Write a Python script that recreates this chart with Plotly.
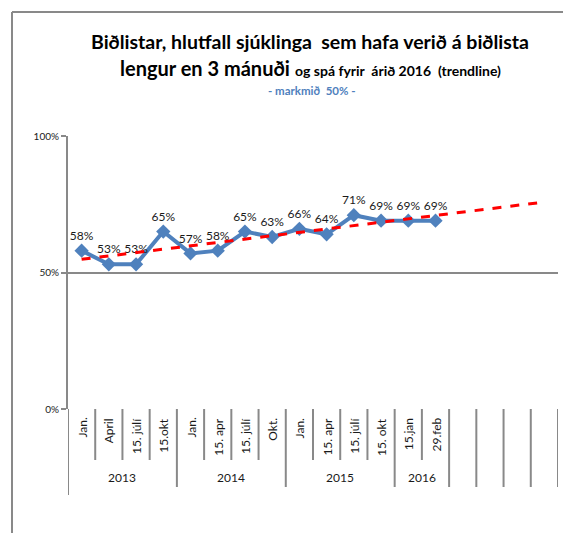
import numpy as np
import plotly.graph_objects as go

# ---- data ----
categories = ["Jan.", "April", "15. júlí", "15.okt",
              "Jan.", "15. apr", "15. júlí", "Okt.",
              "Jan.", "15. apr", "15. júlí", "15. okt",
              "15.jan", "29.feb", "", "", "", ""]
years = ["2013", "2014", "2015", "2016"]
year_sizes = [4, 4, 4, 2]
values = [58, 53, 53, 65, 57, 58, 65, 63, 66, 64, 71, 69, 69, 69]
labels = [f"{v}%" for v in values]
y_ticks = [0, 50, 100]
y_ticklabels = ["0%", "50%", "100%"]

W, H = 563, 533
L, R, T, B = 68, 5, 136, 124
PW, PH = W - L - R, H - T - B

def py(p):  # pixel y -> paper
    return (H - B - p) / PH

def px(p):  # pixel x -> paper
    return (p - L) / PW

n_cat = len(categories)
xs = np.arange(len(values)) + 0.5

# trendline: linear fit of the series, extended over all categories
coef = np.polyfit(np.arange(1, len(values) + 1), values, 1)
tx = np.arange(1, n_cat + 1)
ty = np.polyval(coef, tx)

FONT = "Lato"
GRAY = "#898989"
BLUE = "#4F81BD"

fig = go.Figure()
fig.add_trace(go.Scatter(
    x=xs, y=values, mode="lines+markers+text",
    line=dict(color=BLUE, width=4),
    marker=dict(symbol="diamond", size=11, color=BLUE),
    text=labels, textposition="top center",
    textfont=dict(family=FONT, size=12, color="#1a1a1a"),
    showlegend=False, cliponaxis=False))
fig.add_trace(go.Scatter(
    x=tx - 0.5, y=ty, mode="lines",
    line=dict(color="#FF0000", width=3, dash="dash"),
    hoverinfo="skip", showlegend=False))

shapes = []
annotations = []

# category dividers
boundaries = set([0])
acc = 0
for s in year_sizes:
    acc += s
    boundaries.add(acc)
for i in range(acc, n_cat + 1):
    boundaries.add(i)
for i in range(n_cat + 1):
    if i == 0:
        y1 = py(495)
    elif i in boundaries:
        y1 = py(487)
    else:
        y1 = py(460)
    shapes.append(dict(type="line", xref="x", yref="paper", x0=i, x1=i,
                       y0=0, y1=y1, line=dict(color=GRAY, width=2)))

# category labels
for i, c in enumerate(categories):
    if c:
        annotations.append(dict(x=i + 0.5, y=py(416), xref="x", yref="paper",
                                text=c, textangle=-90, showarrow=False,
                                xanchor="center", yanchor="top",
                                font=dict(family=FONT, size=12, color="#1a1a1a")))
# year labels
start = 0
for yr, s in zip(years, year_sizes):
    annotations.append(dict(x=start + s / 2, y=py(477), xref="x", yref="paper",
                            text=yr, showarrow=False, xanchor="center",
                            yanchor="middle",
                            font=dict(family=FONT, size=12, color="#1a1a1a")))
    start += s

# titles
annotations.append(dict(x=px(310), y=py(42), xref="paper", yref="paper",
                        text="<b>Biðlistar, hlutfall sjúklinga  sem hafa verið á biðlista</b>",
                        showarrow=False, xanchor="center", yanchor="middle",
                        font=dict(family=FONT, size=19.5, color="#000")))
annotations.append(dict(x=px(310), y=py(68), xref="paper", yref="paper",
                        text="<b>lengur en 3 mánuði</b> <b><span style='font-size:14px'>og spá fyrir  árið 2016  (trendline)</span></b>",
                        showarrow=False, xanchor="center", yanchor="middle",
                        font=dict(family=FONT, size=20, color="#000")))
annotations.append(dict(x=px(312), y=py(91), xref="paper", yref="paper",
                        text="<b>- markmið  50% -</b>",
                        showarrow=False, xanchor="center", yanchor="middle",
                        font=dict(family=FONT, size=11.5, color=BLUE)))

# outer border (left and top)
shapes.append(dict(type="line", xref="paper", yref="paper",
                   x0=px(12), x1=px(12), y0=py(12), y1=py(540),
                   line=dict(color=GRAY, width=2)))
shapes.append(dict(type="line", xref="paper", yref="paper",
                   x0=px(12), x1=px(570), y0=py(12), y1=py(12),
                   line=dict(color=GRAY, width=2)))

fig.update_layout(
    width=W, height=H,
    margin=dict(l=L, r=R, t=T, b=B),
    paper_bgcolor="white", plot_bgcolor="white",
    shapes=shapes, annotations=annotations,
    font=dict(family=FONT, size=10, color="#1a1a1a"),
    xaxis=dict(range=[0, n_cat], showgrid=False, showticklabels=False,
               zeroline=False, showline=False, fixedrange=True),
    yaxis=dict(range=[0, 100], tickvals=y_ticks, ticktext=y_ticklabels,
               showgrid=True, gridcolor=GRAY, gridwidth=2,
               zeroline=False, showline=True, linecolor=GRAY, linewidth=2,
               ticks="outside", ticklen=5, tickcolor=GRAY, tickwidth=2,
               tickfont=dict(family=FONT, size=10, color="#1a1a1a"),
               automargin=False, fixedrange=True),
)

fig.write_html("out.html", config={"displayModeBar": False},
               post_script="document.body.style.margin='0';")
